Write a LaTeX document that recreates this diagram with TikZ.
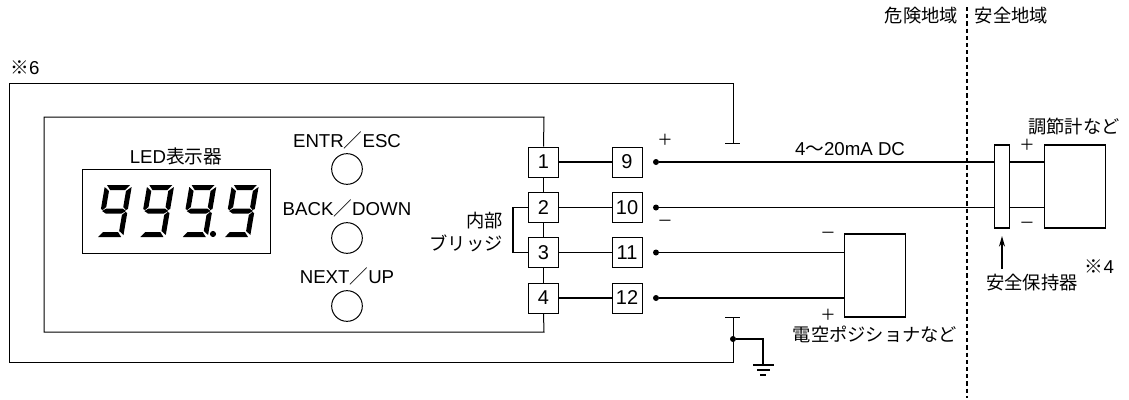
\documentclass[tikz,border=0pt]{standalone}
\usepackage{fontspec}
\setmainfont{Liberation Sans}
\newfontfamily\cjk{Noto Sans CJK JP}
\usetikzlibrary{arrows.meta}
\tikzset{
  lbl/.style={inner sep=0pt,font=\fontsize{14}{16}\selectfont},
  jlbl/.style={inner sep=0pt,font=\fontsize{13.7}{16}\cjk},
  sign/.style={inner sep=0pt,font=\fontsize{11.5}{14}\cjk},
  termbox/.style={draw,line width=0.75pt,minimum width=22.5pt,minimum height=22.5pt,inner sep=0pt,font=\fontsize{15}{16}\selectfont},
  devbox/.style={draw,line width=0.9pt,minimum height=62.2pt,inner sep=0pt},
  btn/.style={circle,draw,line width=0.75pt,minimum size=23pt,inner sep=0pt},
  dotnode/.style={circle,fill=black,minimum size=4.5pt,inner sep=0pt},
  frameline/.style={line width=0.75pt},
  wire/.style={line width=1.1pt},
}
\newcommand{\ninedigit}[1]{%
  \begin{scope}[shift={(#1,185)},xslant=-0.17]
  \fill (2,0) -- (25,0) -- (21,5) -- (6,5) -- cycle;
  \fill (0,2) -- (5,6) -- (5,22) -- (2,25) -- (0,24) -- cycle;
  \fill (27,2) -- (22,6) -- (22,22) -- (25,25) -- (27,24) -- cycle;
  \fill (1.5,26) -- (5.5,23.5) -- (21.5,23.5) -- (25.5,26) -- (21.5,28.5) -- (5.5,28.5) -- cycle;
  \fill (27,28) -- (25,27) -- (22,30) -- (22,46) -- (27,50) -- cycle;
  \fill (6,47) -- (21,47) -- (25,52) -- (2,52) -- cycle;
  \end{scope}}
\begin{document}
\begin{tikzpicture}[x=0.75pt,y=0.75pt,yscale=-1,xscale=1]
\useasboundingbox (0,0) rectangle (1129,400);

%Terminals
\node (t1) [termbox] at (543.5,162) {1};
\node (t2) [termbox] at (543.5,207.5) {2};
\node (t3) [termbox] at (543.5,252.5) {3};
\node (t4) [termbox] at (543.5,298) {4};
\node (t9) [termbox] at (627,162) {9};
\node (t10) [termbox] at (627,207.5) {10};
\node (t11) [termbox] at (627,252.5) {11};
\node (t12) [termbox] at (627,298) {12};
\node (d9) [dotnode] at (656,162) {};
\node (d10) [dotnode] at (656,207.5) {};
\node (d11) [dotnode] at (656,252.5) {};
\node (d12) [dotnode] at (656,298) {};

%Devices
\node (barrier) [devbox,minimum width=11.5pt] at (1002,186.5) {};
\node (controller) [devbox,minimum width=45.5pt] at (1075,186.5) {};
\node (positioner) [devbox,minimum width=45.5pt] at (875,275.5) {};

%Named corners
\coordinate (shieldtop) at (733,143);
\coordinate (shieldtopl) at (725,143);
\coordinate (shieldtopr) at (740,143);
\coordinate (shieldbot) at (733,317);
\coordinate (shieldbotl) at (725,317);
\coordinate (shieldbotr) at (740,317);
\coordinate (bridgea) at (513,207.5);
\coordinate (bridgeb) at (513,252.5);

%Frames
\draw [frameline] (shieldtop) -- (733,83) -- (9,83) -- (9,362) -- (733,362) -- (shieldbot);
\draw [frameline] (shieldtopl) -- (shieldtopr);
\draw [frameline] (shieldbotl) -- (shieldbotr);
\draw [frameline] (t1.north) -- (544,117) -- (44,117) -- (44,332) -- (544,332) -- (t4.south);
\draw [frameline] (t1) -- (t2);
\draw [frameline] (t2) -- (t3);
\draw [frameline] (t3) -- (t4);

%Wires
\draw [wire] (t1) -- (t9);
\draw [wire] (t2) -- (t10);
\draw [wire] (t3) -- (t11);
\draw [wire] (t4) -- (t12);
\draw [wire] (t2.west) -- (bridgea) -- (bridgeb) -- (t3.west);
\draw [wire] (d9) -- (d9 -| barrier.west);
\draw [wire] (d10) -- (d10 -| barrier.west);
\draw [wire] (d9 -| barrier.east) -- (d9 -| controller.west);
\draw [wire] (d10 -| barrier.east) -- (d10 -| controller.west);
\draw [wire] (d11) -- (d11 -| positioner.west);
\draw [wire] (d12) -- (d12 -| positioner.west);

%Ground
\node (gnddot) [dotnode] at (733,339) {};
\coordinate (gndtop) at (763,365);
\draw [wire] (gnddot) -- (763,339) -- (gndtop);
\draw [wire] (753,365) -- (774,365);
\draw [wire] (757,370) -- (770,370);
\draw [wire] (760,375) -- (766,375);

%Area border
\coordinate (bordertop) at (967,7);
\coordinate (borderbot) at (967,398);
\draw [line width=0.9pt,dash pattern=on 3.2pt off 2.2pt] (bordertop) -- (borderbot);

%Barrier arrow
\coordinate (arrowfrom) at (1002,269);
\coordinate (arrowto) at (1002,236);
\draw [wire,-{Stealth[length=8pt,width=4.5pt]}] (arrowfrom) -- (arrowto);

%Display
\node (display) [draw,line width=0.75pt,minimum width=141.5pt,minimum height=63pt,inner sep=0pt] at (176.5,211) {};
\ninedigit{105}
\ninedigit{147.3}
\ninedigit{189.6}
\ninedigit{231.9}
\fill (213,234) circle (2.3pt);

%Buttons
\node (btna) [btn] at (347,169) {};
\node (btnb) [btn] at (347,238) {};
\node (btnc) [btn] at (347,306) {};

% Text Node
\node (mark6) [lbl] at (25,68) {{\cjk ※}6};
\node (ledlbl) [lbl] at (176,156) {LED{\cjk 表示器}};
\node (btnalbl) [lbl] at (347,140) {ENTR{\cjk ／}ESC};
\node (btnblbl) [lbl] at (347,208) {BACK{\cjk ／}DOWN};
\node (btnclbl) [lbl] at (347,276) {NEXT{\cjk ／}UP};
\node (brlbla) [jlbl,anchor=east] at (503,221) {内部};
\node (brlblb) [jlbl,anchor=east] at (503,243) {ブリッジ};
\node (plusa) [sign] at (665,140) {＋};
\node (minusa) [sign] at (665,223) {－};
\node (sig) [lbl] at (850,149) {4{\cjk ～}20mA DC};
\node (minusb) [sign] at (828,235) {－};
\node (plusb) [sign] at (828,315) {＋};
\node (poslbl) [jlbl] at (875,334) {電空ポジショナなど};
\node (danger) [jlbl] at (921.5,16) {危険地域};
\node (safe) [jlbl] at (1011.5,16) {安全地域};
\node (ctrllbl) [jlbl] at (1074,127) {調節計など};
\node (plusc) [sign] at (1027,145) {＋};
\node (minusc) [sign] at (1027,225) {－};
\node (barlbl) [jlbl] at (1032,283) {安全保持器};
\node (mark4) [lbl] at (1099.5,267) {{\cjk ※}4};

\end{tikzpicture}
\end{document}
